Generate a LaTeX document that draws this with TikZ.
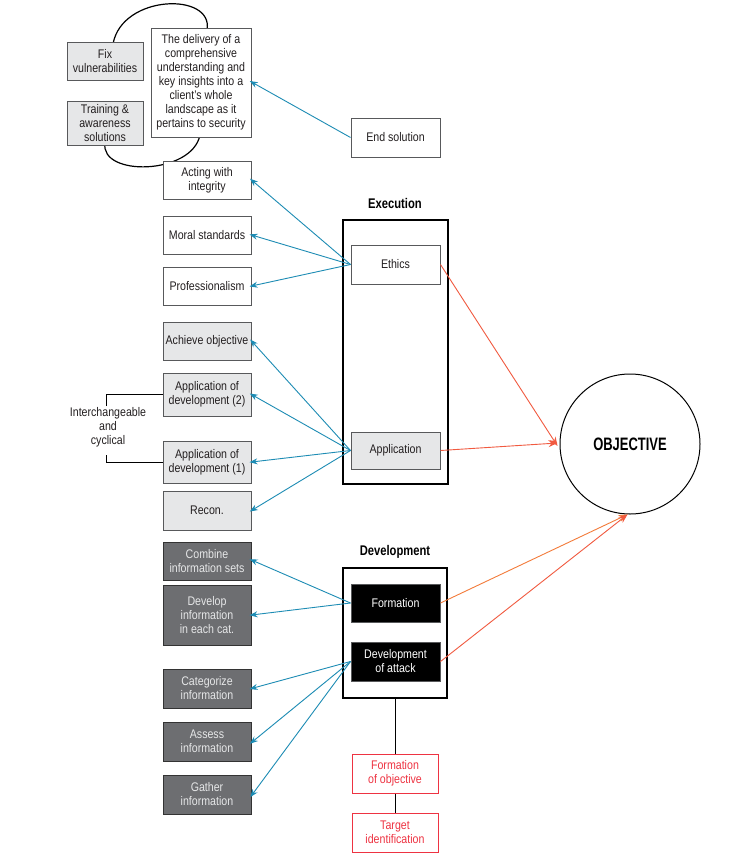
\documentclass[tikz,border=0pt]{standalone}
\usepackage{fontspec}
\setmainfont[FakeStretch=0.85]{Liberation Sans}
\newfontfamily\headfont[FakeStretch=0.8]{Liberation Sans}
\newfontfamily\objfont[FakeStretch=0.72]{Liberation Sans}
\usetikzlibrary{arrows.meta}
\definecolor{lgray}{HTML}{E6E7E8}
\definecolor{dgray}{HTML}{6D6E71}
\definecolor{bord}{HTML}{58595B}
\definecolor{arrblue}{HTML}{1D8CB4}
\definecolor{arrred}{HTML}{F15A40}
\definecolor{arrorange}{HTML}{F37B3A}
\definecolor{boxred}{HTML}{EE3342}
\definecolor{ink}{HTML}{231F20}
\tikzset{
  box/.style={draw=bord, line width=1pt, fill=white, text=ink, align=center, inner sep=1pt,
    font=\fontsize{12.5}{14}\selectfont, minimum width=88, minimum height=38},
  lbox/.style={box, fill=lgray},
  dbox/.style={box, fill=dgray, draw=black!80, text=lgray},
  kbox/.style={box, fill=black, draw=bord, text=white},
  rbox/.style={box, draw=boxred, text=boxred, minimum width=86},
  frame/.style={draw=black, line width=1.6pt, fill=none, minimum width=105},
  head/.style={font=\headfont\bfseries\fontsize{14}{16}\selectfont, text=black},
  barrow/.style={draw=arrblue, line width=0.9pt, -{Stealth[length=8pt,width=6pt]}, shorten >=-2pt},
  rarrow/.style={draw=arrred, line width=0.9pt, -{Stealth[length=9pt,width=7pt]}},
  oarrow/.style={draw=arrorange, line width=0.9pt, -{Stealth[length=9pt,width=7pt]}},
  loop/.style={draw=black, line width=1.2pt},
  plain/.style={draw=black, line width=1pt}
}
\begin{document}
\begin{tikzpicture}[x=1pt,y=-1pt]
\useasboundingbox[fill=white] (0,0) rectangle (747,862);
% loop curves (behind boxes)
\coordinate (l1) at (113,44);
\coordinate (l2) at (207,30);
\coordinate (l3) at (105,143);
\coordinate (l4) at (200,135);
\draw[loop] (l1) .. controls (122,-6) and (214,-8) .. (l2);
\draw[loop] (l3) .. controls (100,177) and (192,175) .. (l4);

% top group
\node[lbox, minimum width=76] (fix) at (105,61) {Fix\\vulnerabilities};
\node[lbox, minimum width=76, minimum height=44] (train) at (105,123) {Training \&\\awareness\\solutions};
\node[box, minimum width=100, minimum height=109] (deliv) at (201,82.5) {The delivery of a\\comprehensive\\understanding and\\key insights into a\\client's whole\\landscape as it\\pertains to security};
\node[box, minimum width=89, minimum height=39] (endsol) at (395.5,137.5) {End solution};

% execution
\node[head] (exlab) at (395,203) {Execution};
\node[frame, minimum height=264] (exec) at (395.5,352) {};
\node[box, minimum width=89, minimum height=39] (ethics) at (395.5,264.5) {Ethics};
\node[lbox, minimum width=89, minimum height=37] (appl) at (395.5,450.5) {Application};

\node[box] (acting) at (207,180) {Acting with\\integrity};
\node[box] (moral) at (207,235) {Moral standards};
\node[box] (prof) at (207,286) {Professionalism};
\node[lbox] (achieve) at (207,341) {Achieve objective};
\node[lbox, minimum height=43] (app2) at (207,394.5) {Application of\\development (2)};
\node[lbox, minimum height=42] (app1) at (207,462) {Application of\\development (1)};
\node[lbox, minimum height=39] (recon) at (207,510.5) {Recon.};

% bracket
\node[text=ink, align=center, font=\fontsize{12.5}{14}\selectfont] (ic) at (108,427) {Interchangeable\\and\\cyclical};
\coordinate (b1) at (106,406);
\coordinate (b2) at (106,455);
\draw[plain] (b1) |- (app2.west);
\draw[plain] (b2) |- (app1.west);

% development
\node[head] (devlab) at (395,552) {Development};
\node[frame, minimum width=104, minimum height=130] (devc) at (395,633) {};
\node[kbox, minimum width=89] (form) at (395.5,603) {Formation};
\node[kbox, minimum width=89, minimum height=39] (devatk) at (395.5,661.5) {Development\\of attack};

\node[dbox] (comb) at (207,561) {Combine\\information sets};
\node[dbox, minimum height=60] (devinfo) at (207,615) {Develop\\information\\in each cat.};
\node[dbox, minimum height=39] (categ) at (207,688.5) {Categorize\\information};
\node[dbox, minimum height=39] (assess) at (207,741.5) {Assess\\information};
\node[dbox, minimum height=39] (gather) at (207,794.5) {Gather\\information};

\node[rbox, minimum height=39] (formobj) at (395,773.5) {Formation\\of objective};
\node[rbox, minimum height=39] (target) at (395,832.5) {Target\\identification};
\draw[plain] (devc.south) -- (formobj.north);
\draw[plain] (formobj.south) -- (target.north);

% objective
\node[draw=black, line width=1pt, circle, minimum size=140, inner sep=0pt,
      font=\objfont\bfseries\fontsize{18}{20}\selectfont, text=black] (obj) at (630,444) {OBJECTIVE};

% blue arrows
\draw[barrow] (endsol.west) -- ([yshift=0.5]deliv.east);
\draw[barrow] (ethics.west) -- (acting.east);
\draw[barrow] (ethics.west) -- (moral.east);
\draw[barrow] (ethics.west) -- (prof.east);
\draw[barrow] (appl.west) -- (achieve.east);
\draw[barrow] (appl.west) -- (app2.east);
\draw[barrow] (appl.west) -- (app1.east);
\draw[barrow] (appl.west) -- (recon.east);
\draw[barrow] (form.west) -- ([yshift=1]comb.east);
\draw[barrow] (form.west) -- (devinfo.east);
\draw[barrow] (devatk.west) -- (categ.east);
\draw[barrow] (devatk.west) -- ([yshift=-1]assess.east);
\draw[barrow] (devatk.west) -- ([yshift=-1]gather.east);

% red arrows
\draw[rarrow] (ethics.east) -- ([xshift=-2,yshift=-2]obj.west);
\draw[rarrow] (appl.east) -- ([xshift=-2,yshift=1]obj.west);
\draw[oarrow] (form.east) -- (obj.-92);
\draw[rarrow] (devatk.east) -- (obj.-92);
\end{tikzpicture}
\end{document}
